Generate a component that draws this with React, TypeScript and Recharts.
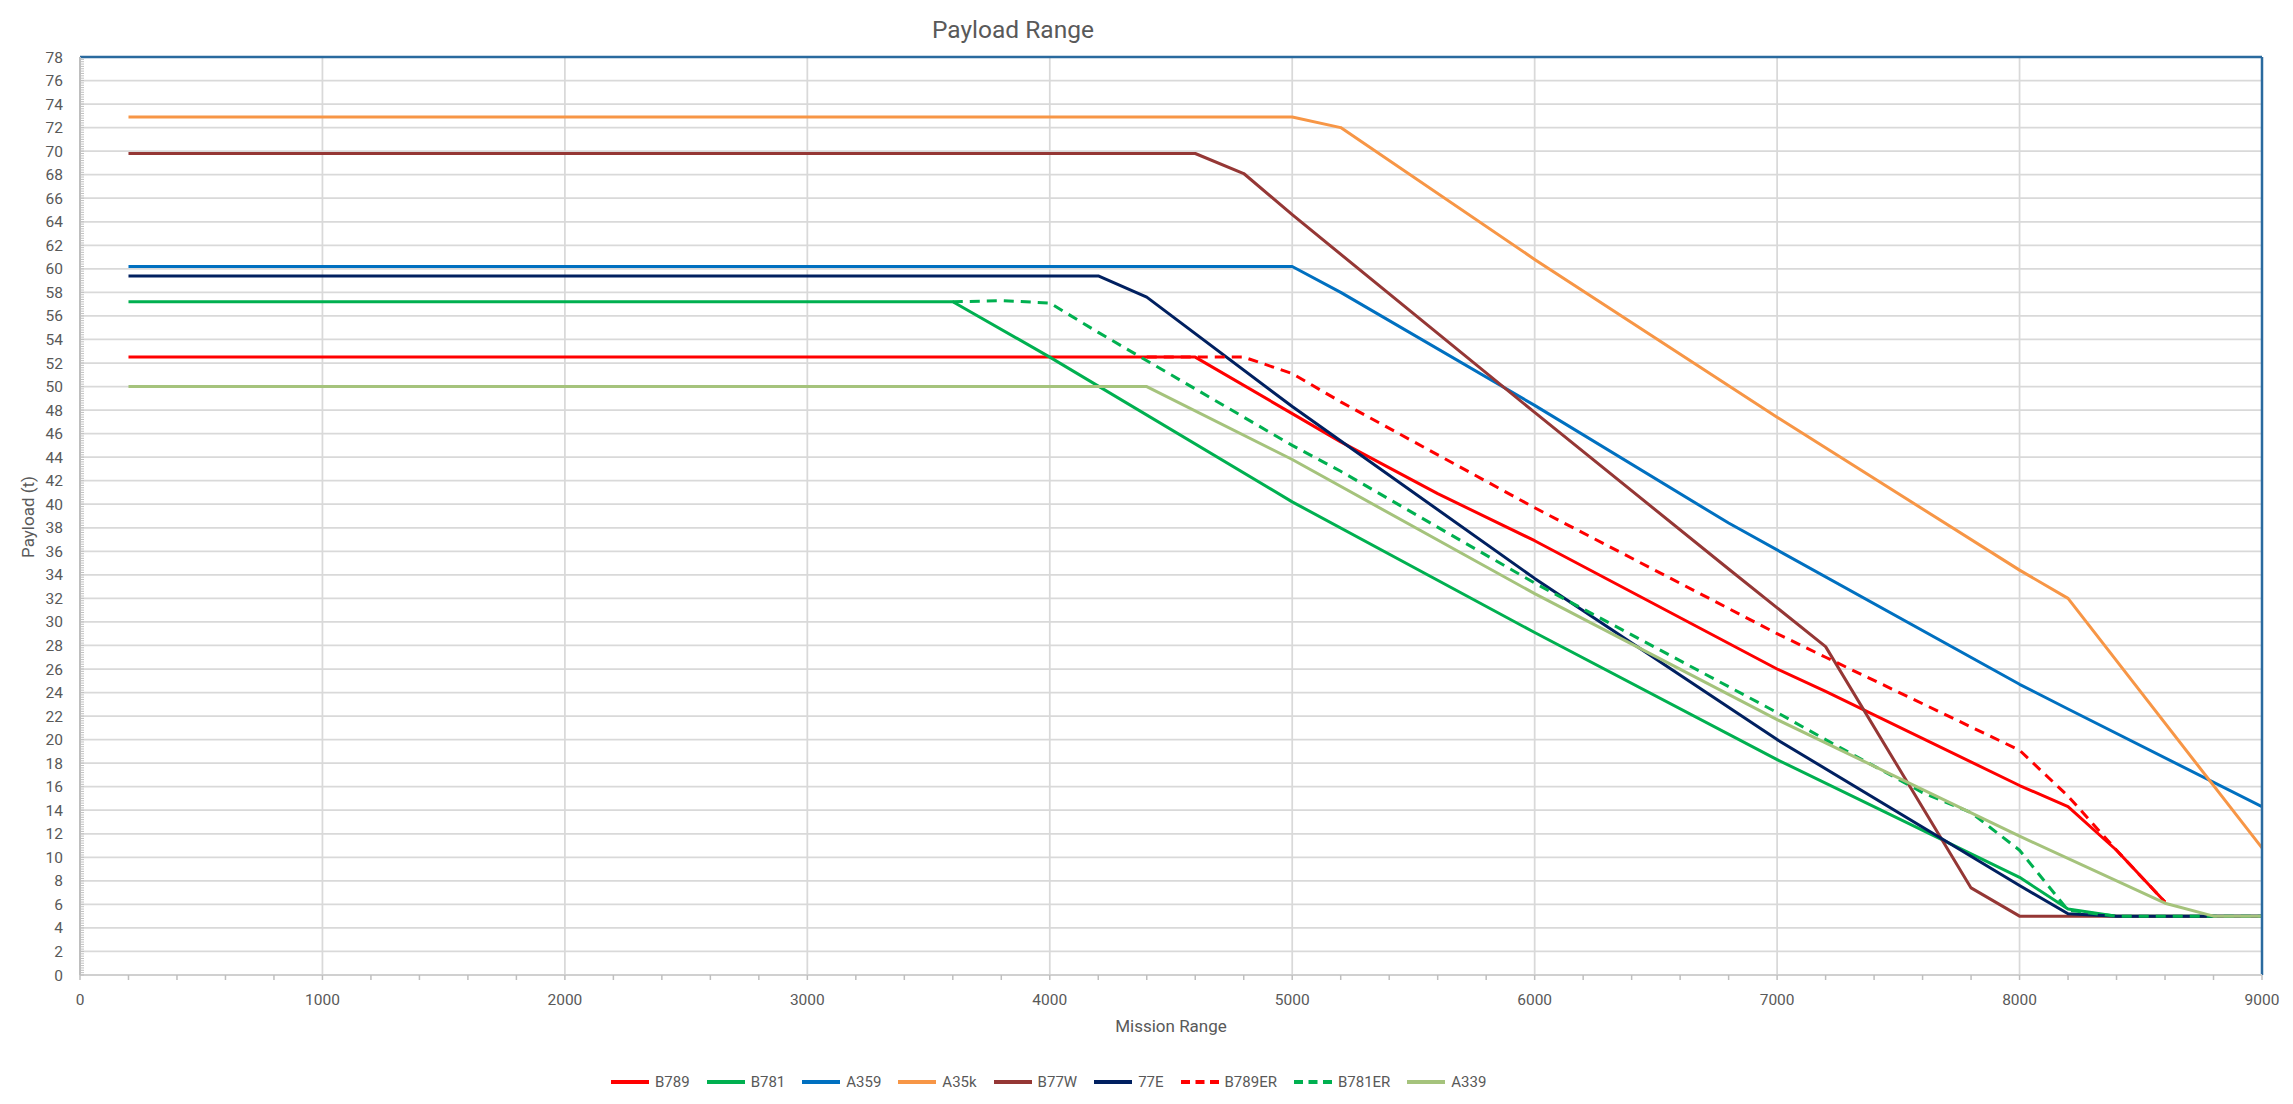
import React from 'react';
import { LineChart, Line, XAxis, YAxis, CartesianGrid, ReferenceLine } from 'recharts';

// payload (t) against mission range, breakpoints
const B789 = [[200, 52.5], [4600, 52.5], [5000, 47.7], [5200, 45.3], [5600, 40.9], [6000, 36.9], [7000, 26.0], [7200, 24.1], [8000, 16.1], [8200, 14.3], [8400, 10.6], [8600, 6.2]];
const B781 = [[200, 57.2], [3600, 57.2], [4000, 52.5], [5000, 40.2], [6000, 29.1], [7000, 18.3], [8000, 8.3], [8200, 5.6], [8400, 5.0], [9000, 5.0]];
const A359 = [[200, 60.2], [5000, 60.2], [5200, 58.0], [6000, 48.4], [6800, 38.4], [8000, 24.7], [8200, 22.6], [9000, 14.3]];
const A35K = [[200, 72.9], [5000, 72.9], [5200, 72.0], [6000, 60.8], [7000, 47.4], [8000, 34.4], [8200, 32.0], [9000, 10.8]];
const B77W = [[200, 69.8], [4600, 69.8], [4800, 68.1], [5000, 64.6], [6000, 47.8], [6800, 34.5], [7200, 27.9], [7800, 7.4], [8000, 5.0], [9000, 5.0]];
const E77 = [[200, 59.4], [4200, 59.4], [4400, 57.6], [5000, 48.3], [6000, 33.7], [7000, 20.0], [8000, 7.6], [8200, 5.2], [8400, 5.0], [9000, 5.0]];
const B789ER = [[4400, 52.5], [4800, 52.5], [5000, 51.1], [5200, 48.7], [6000, 39.7], [7000, 29.0], [7200, 27.0], [8000, 19.1], [8200, 15.2], [8400, 10.6], [8600, 6.2]];
const B781ER = [[3600, 57.2], [3800, 57.3], [4000, 57.1], [4200, 54.6], [5000, 45.0], [5200, 42.8], [6000, 33.3], [7000, 22.3], [7200, 20.0], [7600, 15.5], [7800, 13.8], [8000, 10.6], [8200, 5.5], [8400, 5.0], [9000, 5.0]];
const A339 = [[200, 50.0], [4400, 50.0], [5000, 43.8], [6000, 32.4], [7000, 21.7], [8000, 11.8], [8600, 6.1], [8800, 5.0], [9000, 5.0]];

const xTicks = [0, 1000, 2000, 3000, 4000, 5000, 6000, 7000, 8000, 9000];
const yTicks = [0, 2, 4, 6, 8, 10, 12, 14, 16, 18, 20, 22, 24, 26, 28, 30, 32, 34, 36, 38, 40, 42, 44, 46, 48, 50, 52, 54, 56, 58, 60, 62, 64, 66, 68, 70, 72, 74, 76, 78];

const series = [
  { name: 'B789', points: B789, color: '#ff0000', dashed: false },
  { name: 'B781', points: B781, color: '#00b050', dashed: false },
  { name: 'A359', points: A359, color: '#0070c0', dashed: false },
  { name: 'A35k', points: A35K, color: '#f79646', dashed: false },
  { name: 'B77W', points: B77W, color: '#953735', dashed: false },
  { name: '77E', points: E77, color: '#002060', dashed: false },
  { name: 'B789ER', points: B789ER, color: '#ff0000', dashed: true },
  { name: 'B781ER', points: B781ER, color: '#00b050', dashed: true },
  { name: 'A339', points: A339, color: '#a5c37c', dashed: false },
];

const W = 2277;
const H = 1088;
const margin = { top: 49, right: 23, left: 0, bottom: 81 };
const Y_AXIS_W = 72;
const X_AXIS_H = 40;
const PLOT_W = W - margin.left - margin.right - Y_AXIS_W;
const PLOT_H = H - margin.top - margin.bottom - X_AXIS_H;
const FONT = 'Roboto, "Noto Sans", sans-serif';
const TEXT = '#595959';

// major label + the four minor ticks to its right
const XTick = ({ x, y, payload }: any) => {
  const step = PLOT_W / 45;
  return (
    <g>
      {payload.value < 9000 &&
        [1, 2, 3, 4].map((k) => (
          <line key={k} x1={x + k * step} x2={x + k * step} y1={y - 5} y2={y} stroke="#bfbfbf" strokeWidth={1.5} />
        ))}
      <text x={x} y={y + 14} dy="0.71em" textAnchor="middle" fill={TEXT} fontSize={15.5} fontFamily={FONT}>
        {payload.value}
      </text>
    </g>
  );
};

// major label + minor ticks (every 0.2) drawn inside the plot
const YTick = ({ x, y, payload }: any) => {
  const step = PLOT_H / 390;
  return (
    <g>
      {payload.value < 78 &&
        [0, 1, 2, 3, 4, 5, 6, 7, 8, 9].map((k) => (
          <line key={k} x1={x} x2={x + 4} y1={y - k * step} y2={y - k * step} stroke="#bfbfbf" strokeWidth={1} />
        ))}
      <text x={x - 17} y={y} dy="0.355em" textAnchor="end" fill={TEXT} fontSize={15.5} fontFamily={FONT}>
        {payload.value}
      </text>
    </g>
  );
};

const App: React.FC = () => {
  return (
    <div style={{ position: 'relative', width: W, height: H, fontFamily: FONT }}>
      <LineChart width={W} height={H} margin={margin}>
        <CartesianGrid stroke="#d9d9d9" strokeWidth={1.75} />
        <XAxis
          dataKey="x"
          type="number"
          domain={[0, 9000]}
          ticks={xTicks}
          interval={0}
          height={X_AXIS_H}
          tickSize={5}
          tickMargin={0}
          tickLine={{ stroke: '#bfbfbf', strokeWidth: 1.5 }}
          axisLine={{ stroke: '#d0d0d0', strokeWidth: 2 }}
          tick={<XTick />}
          allowDataOverflow
        />
        <YAxis
          type="number"
          domain={[0, 78]}
          ticks={yTicks}
          interval={0}
          width={Y_AXIS_W}
          tickSize={0}
          tickMargin={0}
          tickLine={false}
          axisLine={{ stroke: '#bfbfbf', strokeWidth: 2 }}
          tick={<YTick />}
          allowDataOverflow
        />
        {series.map((s) => (
          <Line
            key={s.name}
            data={s.points.map(([x, y]) => ({ x, y }))}
            dataKey="y"
            name={s.name}
            type="linear"
            stroke={s.color}
            strokeWidth={3}
            strokeDasharray={s.dashed ? '10 7' : undefined}
            strokeLinejoin="round"
            dot={false}
            activeDot={false}
            isAnimationActive={false}
          />
        ))}
        <ReferenceLine y={78} stroke="#2a6a9e" strokeWidth={2.5} />
        <ReferenceLine x={9000} stroke="#2a6a9e" strokeWidth={2.5} />
      </LineChart>

      <div
        style={{
          position: 'absolute', left: 1005, top: 10, transform: 'translateX(-50%)',
          fontSize: 24.5, lineHeight: '24.5px', color: TEXT, whiteSpace: 'nowrap',
        }}
      >
        Payload Range
      </div>
      <div
        style={{
          position: 'absolute', left: margin.left + Y_AXIS_W + PLOT_W / 2, top: 1018,
          transform: 'translate(-50%, -50%)', fontSize: 17, color: TEXT, whiteSpace: 'nowrap',
        }}
      >
        Mission Range
      </div>
      <div
        style={{
          position: 'absolute', left: 20, top: 509,
          transform: 'translate(-50%, -50%) rotate(-90deg)', fontSize: 17, color: TEXT, whiteSpace: 'nowrap',
        }}
      >
        Payload (t)
      </div>

      <div
        style={{
          position: 'absolute', left: 603, top: 1064, height: 20, display: 'flex',
          alignItems: 'center', fontSize: 15, color: TEXT, whiteSpace: 'nowrap',
        }}
      >
        {series.map((s) => (
          <div key={s.name} style={{ display: 'flex', alignItems: 'center', marginRight: 17 }}>
            <svg width={38} height={6}>
              <line x1={0} x2={38} y1={3} y2={3} stroke={s.color} strokeWidth={4} strokeDasharray={s.dashed ? '9 5.5' : undefined} />
            </svg>
            <span style={{ marginLeft: 6 }}>{s.name}</span>
          </div>
        ))}
      </div>
    </div>
  );
};

export default App;
